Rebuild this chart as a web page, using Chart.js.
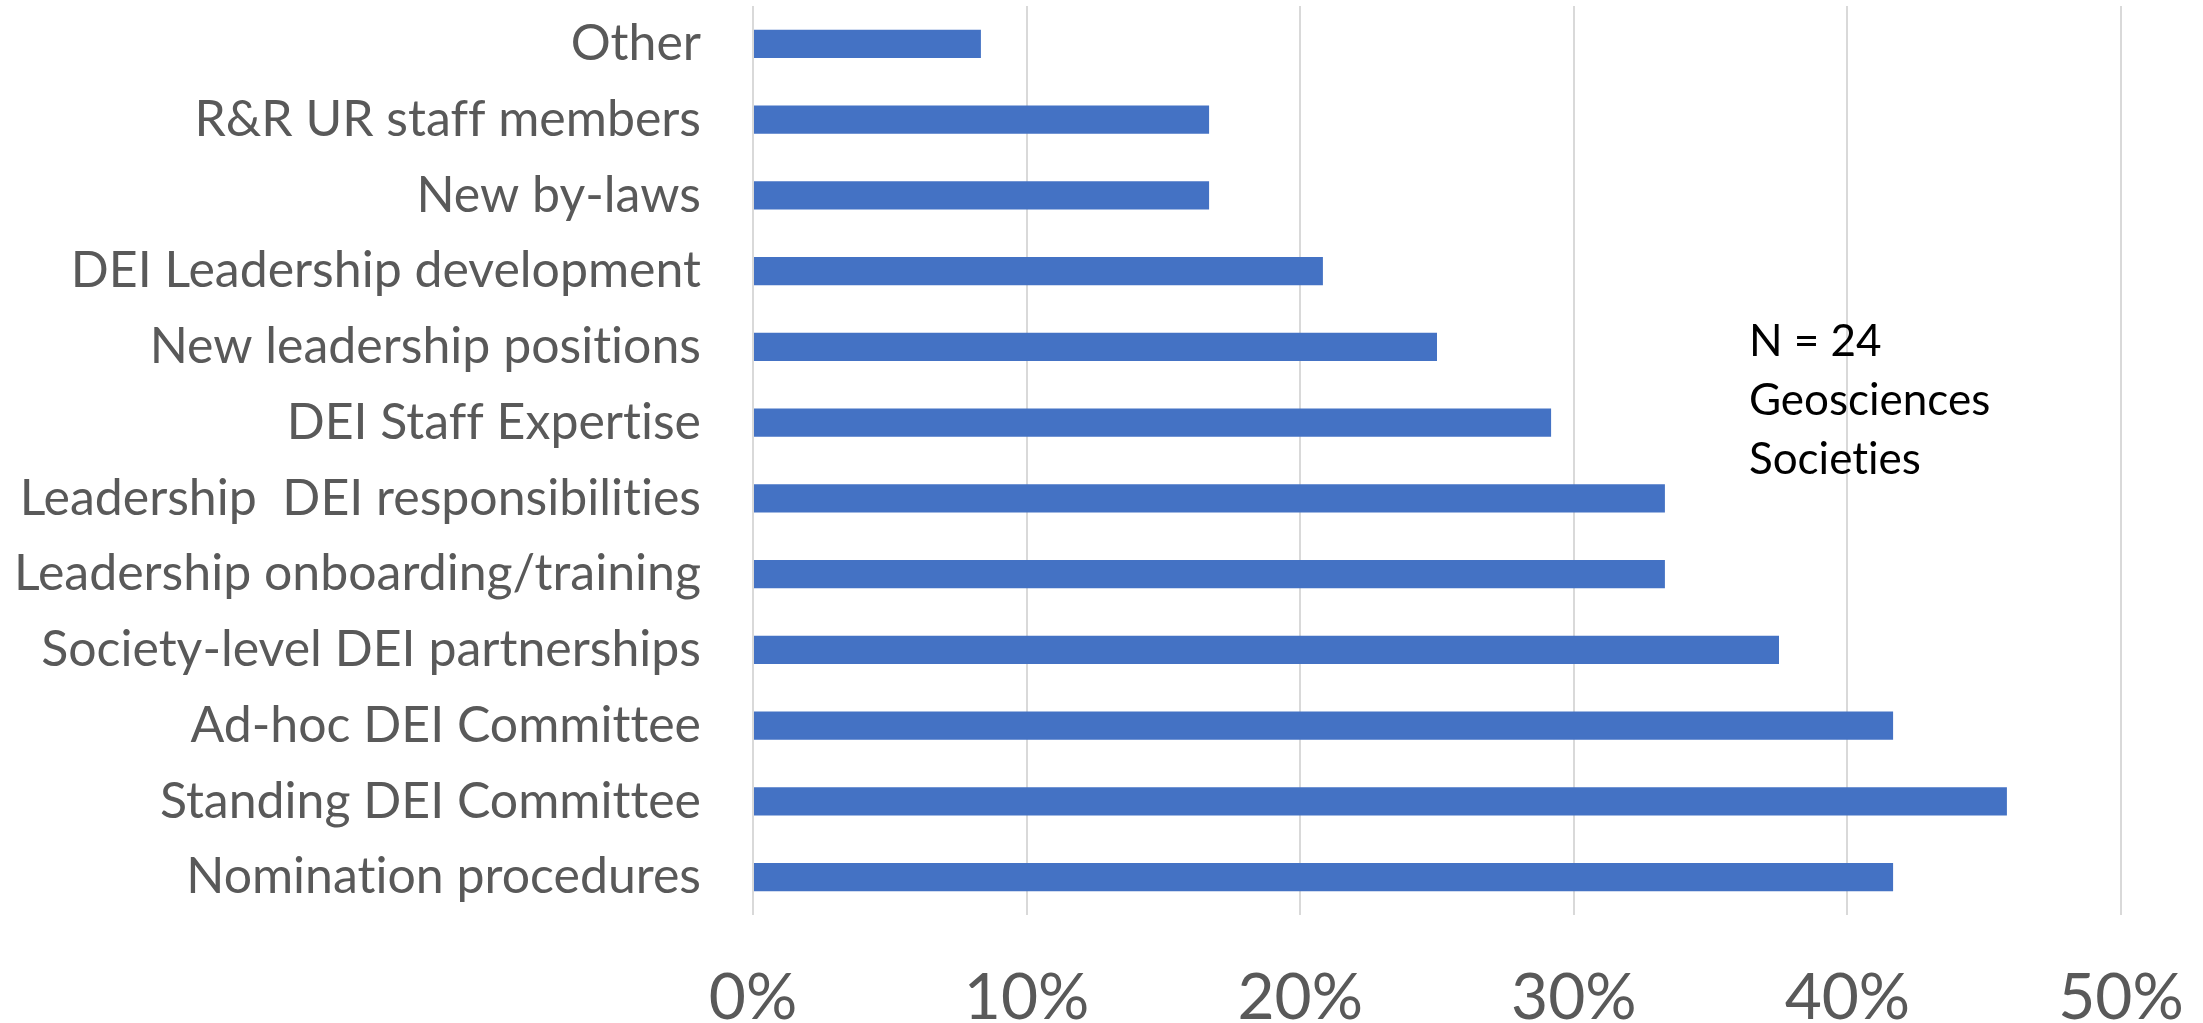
<!DOCTYPE html>
<html>
<head>
<meta charset="utf-8">
<script src="https://cdn.jsdelivr.net/npm/chart.js@4"></script>
<style>
  html, body { margin: 0; padding: 0; background: #fff; }
  #wrap { width: 2203px; height: 1023px; }
</style>
</head>
<body>
<div id="wrap"><canvas id="myChart"></canvas></div>
<script>
const categories = [
  "Other",
  "R&R UR staff members",
  "New by-laws",
  "DEI Leadership development",
  "New leadership positions",
  "DEI Staff Expertise",
  "Leadership  DEI responsibilities",
  "Leadership onboarding/training",
  "Society-level DEI partnerships",
  "Ad-hoc DEI Committee",
  "Standing DEI Committee",
  "Nomination procedures",
];
// share of societies (%)
const shares = [8.33, 16.67, 16.67, 20.83, 25.0, 29.17, 33.33, 33.33, 37.5, 41.67, 45.83, 41.67];
const xTicks = [0, 10, 20, 30, 40, 50];
const noteLines = ["N = 24", "Geosciences", "Societies"];

const FONT = "Lato, 'Open Sans', sans-serif";

// Lato draws "ti"/"tt"/"ff" ligatures by default; switch them off
const plainText = {
  id: "plainText",
  beforeDraw(chart) {
    chart.ctx.textRendering = "optimizeSpeed";
  },
};

const notePlugin = {
  id: "note",
  afterDraw(chart) {
    const ctx = chart.ctx;
    const x = chart.scales.x;
    ctx.save();
    ctx.textRendering = "optimizeSpeed";
    ctx.fillStyle = "#000";
    ctx.font = "44px " + FONT;
    ctx.textBaseline = "middle";
    noteLines.forEach((t, i) => {
      ctx.fillText(t, x.getPixelForValue(36.4), 342 + i * 59);
    });
    ctx.restore();
  },
};

const chart1 = document.getElementById("myChart");
new Chart(chart1, {
  type: "bar",
  data: {
    labels: categories,
    datasets: [
      {
        data: shares,
        backgroundColor: "#4472C4",
        borderWidth: 0,
        barPercentage: 0.37,
        categoryPercentage: 1,
      },
    ],
  },
  plugins: [plainText, notePlugin],
  options: {
    indexAxis: "y",
    responsive: true,
    maintainAspectRatio: false,
    animation: false,
    layout: { padding: { top: 6, right: 82, left: 0, bottom: 0 } },
    plugins: {
      legend: { display: false },
      tooltip: { enabled: false },
    },
    scales: {
      x: {
        min: 0,
        max: 50,
        afterBuildTicks: (scale) => {
          scale.ticks = xTicks.map((v) => ({ value: v }));
        },
        afterFit: (scale) => {
          scale.height = 108;
          scale.paddingLeft = 0;
          scale.paddingRight = 0;
        },
        border: { display: false },
        grid: { color: "#D9D9D9", lineWidth: 2, drawTicks: false },
        ticks: {
          color: "#595959",
          font: { family: FONT, size: 64 },
          padding: 45,
          maxRotation: 0,
          callback: (v) => v + "%",
        },
      },
      y: {
        afterFit: (scale) => {
          scale.width = 753;
          scale.paddingTop = 0;
          scale.paddingBottom = 0;
        },
        border: { display: false },
        grid: { display: false, drawTicks: false },
        ticks: {
          color: "#595959",
          font: { family: FONT, size: 50 },
          padding: 52,
          autoSkip: false,
        },
      },
    },
  },
});
</script>
</body>
</html>
